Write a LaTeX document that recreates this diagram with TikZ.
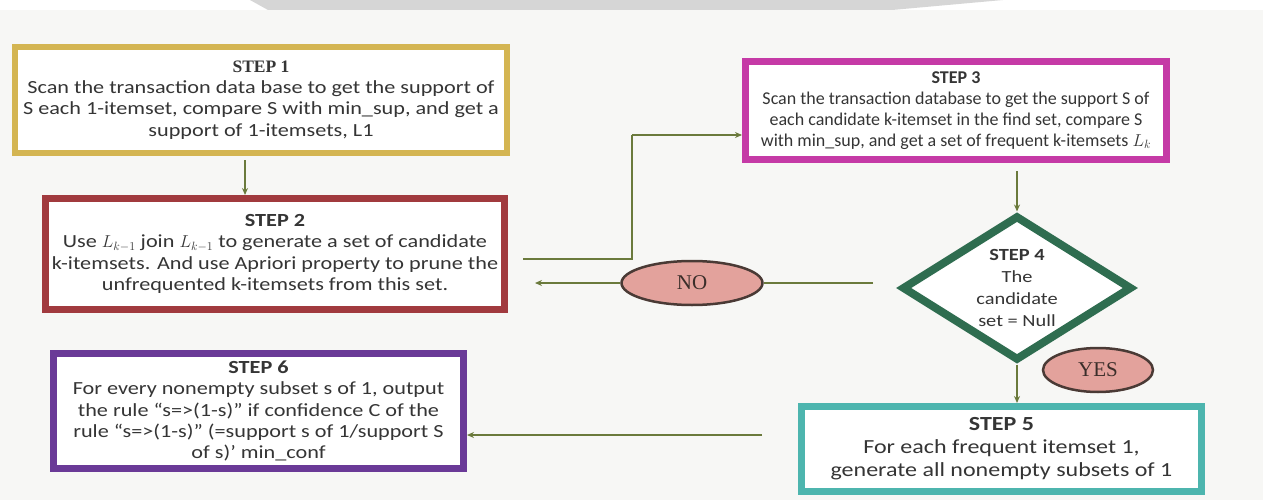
\documentclass[tikz,border=0pt]{standalone}
\usepackage{fontspec}
\setmainfont{Carlito}
\newfontfamily\bodyf[FakeStretch=1.2,Ligatures=TeX]{Carlito}
\newfontfamily\serifb{Liberation Serif}
\usetikzlibrary{shapes.geometric,arrows.meta}
\definecolor{bgc}{HTML}{F7F7F5}
\definecolor{wmk}{HTML}{D6D6D6}
\definecolor{cgold}{HTML}{D4B552}
\definecolor{cred}{HTML}{A13A3E}
\definecolor{cmag}{HTML}{C53AA6}
\definecolor{cgreen}{HTML}{2F6D50}
\definecolor{cteal}{HTML}{4DB5AE}
\definecolor{cpurp}{HTML}{6A3A97}
\definecolor{carrow}{HTML}{6B7A3C}
\definecolor{cpink}{HTML}{E3A29C}
\definecolor{cellb}{HTML}{4A3A35}
\definecolor{ctext}{HTML}{353535}
\tikzset{
  stepbox/.style={draw, rectangle, fill=white, inner sep=0pt, align=center, text=ctext,
    font=\bodyf\fontsize{18.5}{21.3}\selectfont},
  conn/.style={draw=carrow, line width=2.4pt},
  arr/.style={conn, -{Stealth[length=7pt,width=6pt]}},
  oval/.style={ellipse, draw=cellb, line width=2.5pt, fill=cpink, inner sep=0pt,
    font=\serifb\fontsize{21}{24}\selectfont, text=cellb!80!black},
}
\begin{document}
\begin{tikzpicture}[x=1pt,y=-1pt]
\useasboundingbox (0,0) rectangle (1263,500);
\fill[white] (0,0) rectangle (1263,500);
\fill[bgc] (0,10) rectangle (1263,500);
\fill[wmk] (250,0) -- (1003,0) -- (892,10) -- (268,10) -- cycle;

% STEP 1
\node[stepbox, draw=cgold, line width=6pt, minimum width=492pt, minimum height=106pt]
  (s1) at (261,100)
  {{\serifb\bfseries\fontsize{17.5}{21}\selectfont STEP 1}\\
   Scan the transaction data base to get the support of\\
   S each 1-itemset, compare S with min\_sup, and get a\\
   support of 1-itemsets, L1};

% STEP 2
\node[stepbox, draw=cred, line width=7pt, minimum width=459pt, minimum height=111pt]
  (s2) at (275,254)
  {\textbf{STEP 2}\\
   Use $L_{k-1}$ join $L_{k-1}$ to generate a set of candidate\\
   k-itemsets. And use Apriori property to prune the\\
   unfrequented k-itemsets from this set.};

% STEP 3
\node[stepbox, draw=cmag, line width=7pt, minimum width=421pt, minimum height=98pt,
  font=\rmfamily\fontsize{18}{21}\selectfont]
  (s3) at (956,110.5)
  {\textbf{STEP 3}\\
   Scan the transaction database to get the support S of\\
   each candidate k-itemset in the find set, compare S\\
   with min\_sup, and get a set of frequent k-itemsets $L_k$};

% STEP 4
\node[diamond, draw=cgreen, line width=8pt, fill=white, aspect=1.55, inner sep=0pt,
  minimum width=230pt, minimum height=145pt, align=center, text=ctext,
  font=\bodyf\fontsize{17}{22}\selectfont]
  (s4) at (1017,288)
  {\textbf{STEP 4}\\The\\candidate\\set = Null};

% STEP 5
\node[stepbox, draw=cteal, line width=7pt, minimum width=400pt, minimum height=85pt,
  font=\bodyf\fontsize{20}{23}\selectfont]
  (s5) at (1001.5,449)
  {\textbf{STEP 5}\\
   For each frequent itemset 1,\\
   generate all nonempty subsets of 1};

% STEP 6
\node[stepbox, draw=cpurp, line width=7pt, minimum width=410pt, minimum height=115pt]
  (s6) at (258.5,411)
  {\textbf{STEP 6}\\
   For every nonempty subset s of 1, output\\
   the rule “s=>(1-s)” if confidence C of the\\
   rule “s=>(1-s)” (=support s of 1/support S\\
   of s)’ min\_conf};

% ovals
\node[oval, minimum width=141pt, minimum height=44pt] (no) at (692,283) {NO};
\node[oval, minimum width=110pt, minimum height=44pt] (yes) at (1098,370) {YES};

% connectors
\coordinate (e2) at (523,259);
\coordinate (k2) at (632,259);
\coordinate (k3) at (632,135);
\draw[arr] (s1.south -| 245,0) ++(0,4) -- (s2.north -| 245,0) ;
\draw[conn] (e2) -- (k2) -- (k3);
\draw[arr] (k3) -- (s3.west |- k3);
\draw[arr] (s3.south -| s4.north) ++(0,8) -- (s4.north);
\coordinate (dl) at (873,283);
\draw[conn] (dl) -- (no.east);
\draw[arr] (no.west) -- (535,283);
\draw[arr] (s4.south) -- (s5.north -| s4.south);
\draw[arr] (762,435) -- (s6.east |- 0,435);
\end{tikzpicture}
\end{document}
